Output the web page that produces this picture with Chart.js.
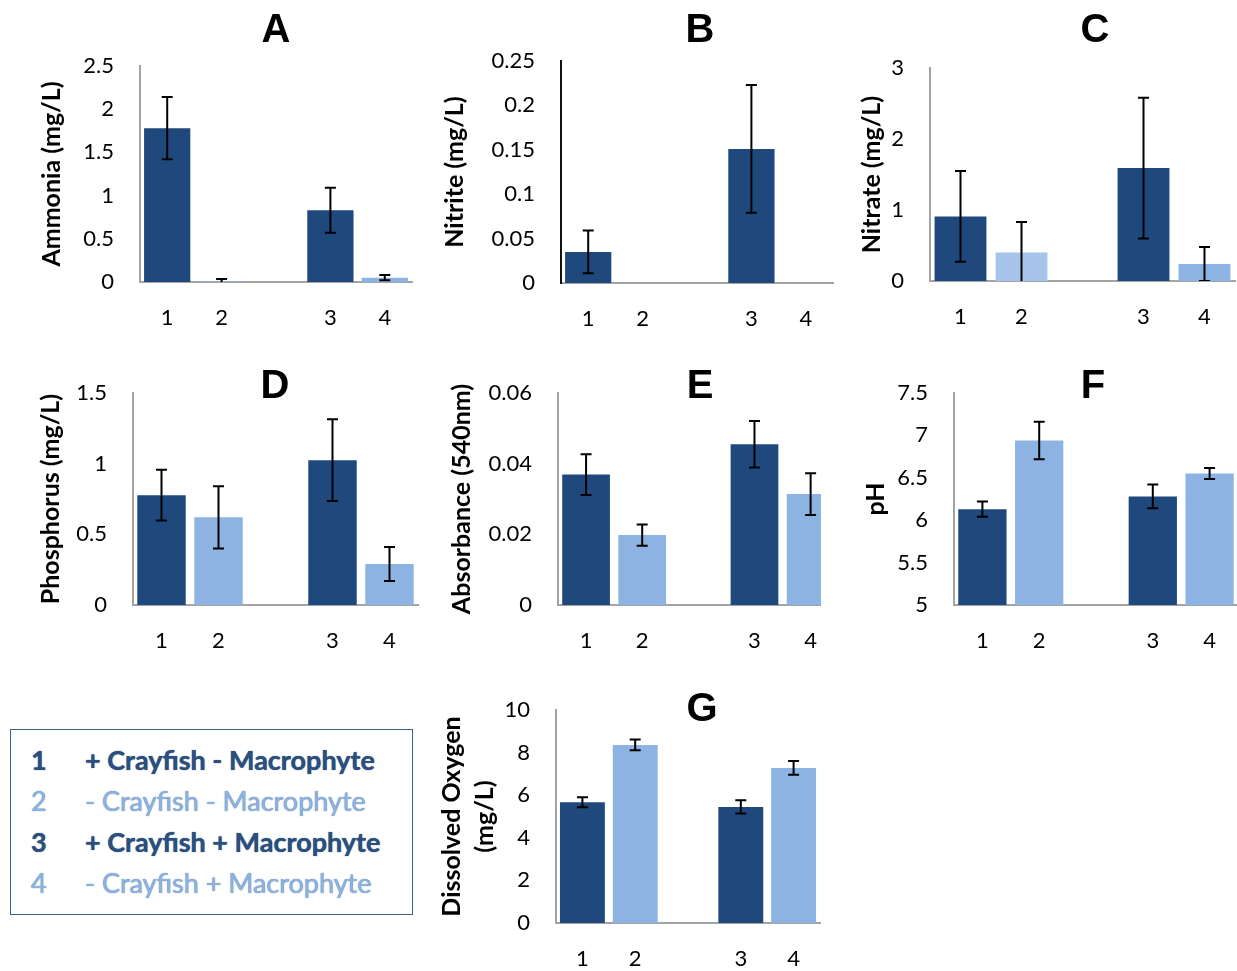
<!DOCTYPE html>
<html>
<head>
<meta charset="utf-8">
<script src="https://cdn.jsdelivr.net/npm/chart.js@4.4.1/dist/chart.umd.min.js"></script>
<style>
  html, body { margin: 0; padding: 0; background: #fff; overflow: hidden; }
  #page { position: relative; width: 1237px; height: 971px; }
  .panel { position: absolute; overflow: hidden; }
  #legend {
    position: absolute; left: 10px; top: 729px; width: 401px; height: 184px;
    border: 1.6px solid #3b5f8f; font-family: Lato, "Noto Sans", sans-serif; font-size: 27px;
  }
  #legend .row { position: absolute; left: 0; height: 34px; line-height: 34px; white-space: nowrap; }
  #legend .num { position: absolute; left: 20px; }
  #legend .txt { position: absolute; left: 74px; }
  #legend .dark { color: #2a4f80; font-weight: bold; text-shadow: 0 0 1px #1b3457; }
  #legend .light { color: #8db3e2; text-shadow: 0 0 1px #44608a; }
</style>
</head>
<body>
<div id="page">
  <div id="legend"></div>
</div>
<script>
// x categories: two groups with an empty slot between them
const categories = ['1', '2', '', '3', '4'];
const legendLabels = ['+ Crayfish - Macrophyte', '- Crayfish - Macrophyte', '+ Crayfish + Macrophyte', '- Crayfish + Macrophyte'];

const ammoniaMeans = [1.78, 0.01, null, 0.83, 0.05];
const ammoniaErrors = [0.36, 0.025, null, 0.26, 0.03];
const ammoniaTicks = [0, 0.5, 1, 1.5, 2, 2.5];

const nitriteMeans = [0.035, 0, null, 0.151, 0];
const nitriteErrors = [0.024, 0, null, 0.072, 0];
const nitriteTicks = [0, 0.05, 0.1, 0.15, 0.2, 0.25];

const nitrateMeans = [0.91, 0.40, null, 1.59, 0.24];
const nitrateErrors = [0.64, 0.43, null, 0.99, 0.24];
const nitrateTicks = [0, 1, 2, 3];

const phosphorusMeans = [0.777, 0.62, null, 1.025, 0.29];
const phosphorusErrors = [0.18, 0.22, null, 0.29, 0.12];
const phosphorusTicks = [0, 0.5, 1, 1.5];

const absorbanceMeans = [0.0369, 0.0198, null, 0.0455, 0.0314];
const absorbanceErrors = [0.0058, 0.003, null, 0.0066, 0.0059];
const absorbanceTicks = [0, 0.02, 0.04, 0.06];

const phMeans = [6.13, 6.94, null, 6.28, 6.55];
const phErrors = [0.09, 0.22, null, 0.14, 0.065];
const phTicks = [5, 5.5, 6, 6.5, 7, 7.5];

const oxygenMeans = [5.67, 8.36, null, 5.45, 7.28];
const oxygenErrors = [0.23, 0.25, null, 0.31, 0.32];
const oxygenTicks = [0, 2, 4, 6, 8, 10];

const DARK = '#1f497d';
const LIGHT = '#8db3e2';
const barColors = [DARK, LIGHT, LIGHT, DARK, LIGHT];
const GRAY = '#a3a3a3';

// box = [left, top, width, height] of the canvas, area = [left, top, right, bottom] of the plot, page px
const panels = [
  { letter: 'A', yTitle: 'Ammonia (mg/L)', means: ammoniaMeans, errors: ammoniaErrors, ticks: ammoniaTicks,
    box: [0, 0, 420, 340], area: [140, 66, 412, 282], letterPos: [276, 42], titleX: 52 },
  { letter: 'B', yTitle: 'Nitrite (mg/L)', means: nitriteMeans, errors: nitriteErrors, ticks: nitriteTicks,
    box: [420, 0, 420, 340], area: [561, 61, 833, 283], letterPos: [700, 42], titleX: 455, yBorder: '#111' },
  { letter: 'C', yTitle: 'Nitrate (mg/L)', means: nitrateMeans, errors: nitrateErrors, ticks: nitrateTicks,
    box: [840, 0, 397, 340], area: [930, 68, 1235, 281], letterPos: [1095, 42], titleX: 872,
    colors: [DARK, '#a7c5ea', LIGHT, DARK, LIGHT] },
  { letter: 'D', yTitle: 'Phosphorus (mg/L)', means: phosphorusMeans, errors: phosphorusErrors, ticks: phosphorusTicks,
    box: [0, 340, 420, 340], area: [133, 393, 418, 605], letterPos: [275, 398], titleX: 51 },
  { letter: 'E', yTitle: 'Absorbance (540nm)', means: absorbanceMeans, errors: absorbanceErrors, ticks: absorbanceTicks,
    box: [420, 340, 420, 340], area: [558, 393, 840, 605], letterPos: [700, 398], titleX: 462, clipWidth: 401 },
  { letter: 'F', yTitle: 'pH', means: phMeans, errors: phErrors, ticks: phTicks,
    box: [840, 340, 400, 340], area: [954, 393, 1238, 605], letterPos: [1093, 398], titleX: 876 },
  { letter: 'G', yTitle: ['Dissolved Oxygen', '(mg/L)'], means: oxygenMeans, errors: oxygenErrors, ticks: oxygenTicks,
    box: [420, 680, 420, 291], area: [556, 710, 820, 923], letterPos: [702, 721], titleX: 452, titleLine: 1.3 }
];

const errorBars = {
  id: 'errorBars',
  afterDatasetsDraw(chart) {
    const ds = chart.data.datasets[0];
    const meta = chart.getDatasetMeta(0);
    const y = chart.scales.y;
    const area = chart.chartArea;
    const ctx = chart.ctx;
    ctx.save();
    ctx.beginPath();
    ctx.rect(area.left, area.top, area.right - area.left, area.bottom - area.top);
    ctx.clip();
    ctx.strokeStyle = '#000';
    ctx.lineWidth = 2;
    meta.data.forEach((bar, i) => {
      const v = ds.data[i], e = ds.errors[i];
      if (v == null || !e) return;
      const top = y.getPixelForValue(v + e);
      const bot = y.getPixelForValue(v - e);
      ctx.beginPath();
      ctx.moveTo(bar.x, top); ctx.lineTo(bar.x, bot);
      ctx.moveTo(bar.x - 5.5, top); ctx.lineTo(bar.x + 5.5, top);
      ctx.moveTo(bar.x - 5.5, bot); ctx.lineTo(bar.x + 5.5, bot);
      ctx.stroke();
    });
    ctx.restore();
  }
};

const panelLetter = {
  id: 'panelLetter',
  afterDraw(chart, args, opts) {
    const ctx = chart.ctx;
    ctx.save();
    ctx.font = 'bold 40px "Liberation Sans", Arial, sans-serif';
    ctx.fillStyle = '#000';
    ctx.textAlign = 'center';
    ctx.textBaseline = 'alphabetic';
    ctx.fillText(opts.text, opts.x, opts.y);
    ctx.restore();
  }
};

const fmt = v => String(+Number(v).toFixed(4));
const page = document.getElementById('page');

panels.forEach(p => {
  const [bx, by, bw, bh] = p.box;
  const [al, at, ar, ab] = p.area;
  const wrap = document.createElement('div');
  wrap.className = 'panel';
  wrap.style.left = bx + 'px';
  wrap.style.top = by + 'px';
  wrap.style.width = (p.clipWidth || bw) + 'px';
  wrap.style.height = bh + 'px';
  const canvas = document.createElement('canvas');
  canvas.width = bw;
  canvas.height = bh;
  canvas.style.width = bw + 'px';
  canvas.style.height = bh + 'px';
  wrap.appendChild(canvas);
  page.appendChild(wrap);

  const lineH = p.titleLine || 1.2;
  const titleSize = 25;

  new Chart(canvas, {
    type: 'bar',
    data: {
      labels: categories,
      datasets: [{
        data: p.means,
        errors: p.errors,
        backgroundColor: p.colors || barColors,
        borderWidth: 0,
        barPercentage: 0.85,
        categoryPercentage: 1
      }]
    },
    options: {
      responsive: false,
      animation: false,
      devicePixelRatio: 1,
      layout: { padding: { left: 0, top: at - by, right: bx + bw - ar, bottom: 0 } },
      plugins: {
        legend: { display: false },
        tooltip: { enabled: false },
        panelLetter: { text: p.letter, x: p.letterPos[0] - bx, y: p.letterPos[1] - by }
      },
      scales: {
        x: {
          offset: true,
          grid: { display: false, drawTicks: false },
          border: { color: GRAY, width: 2 },
          ticks: { color: '#000', padding: 23, font: { family: 'Lato', size: 22 } },
          afterFit: s => { s.height = by + bh - ab; }
        },
        y: {
          min: p.ticks[0],
          max: p.ticks[p.ticks.length - 1],
          afterBuildTicks: s => { s.ticks = p.ticks.map(v => ({ value: v })); },
          grid: { display: false, drawTicks: false },
          border: { color: p.yBorder || GRAY, width: 2 },
          ticks: { color: '#000', padding: 26, font: { family: 'Lato', size: 22 }, callback: fmt },
          title: {
            display: true,
            text: p.yTitle,
            color: '#000',
            font: { family: 'Lato', size: titleSize, weight: 'bold', lineHeight: lineH },
            padding: { top: p.titleX - bx - titleSize * lineH / 2, bottom: 0 }
          },
          afterFit: s => { s.width = al - bx; s.paddingTop = 0; s.paddingBottom = 0; }
        }
      }
    },
    plugins: [errorBars, panelLetter]
  });
});

// legend box
const legend = document.getElementById('legend');
const rowTops = [13, 54, 95, 136];
legendLabels.forEach((label, i) => {
  const row = document.createElement('div');
  row.className = 'row ' + (i % 2 === 0 ? 'dark' : 'light');
  row.style.top = rowTops[i] + 'px';
  row.innerHTML = '<span class="num"></span><span class="txt"></span>';
  row.querySelector('.num').textContent = categories.filter(c => c)[i];
  row.querySelector('.txt').textContent = label;
  legend.appendChild(row);
});
</script>
</body>
</html>
